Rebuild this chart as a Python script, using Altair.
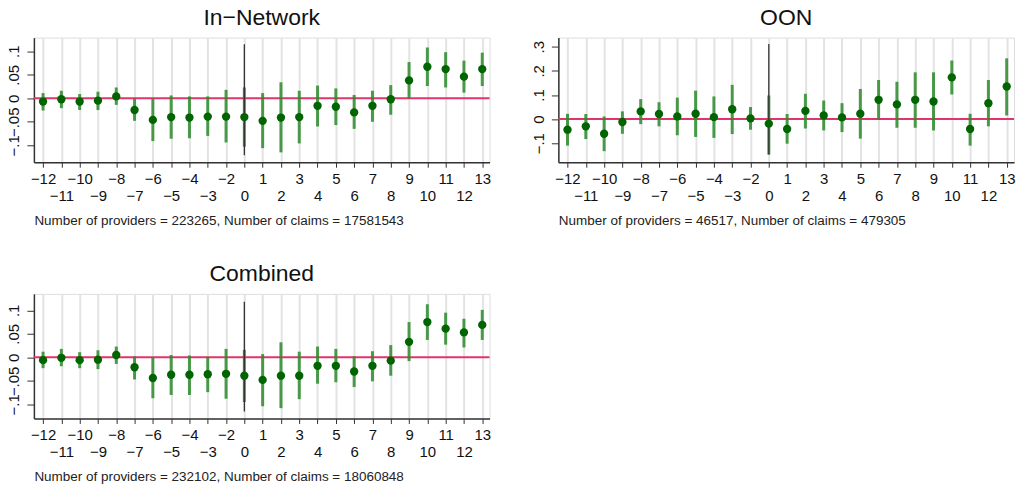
import json
import altair as alt
import pandas as pd

# Event-time labels (period -1 omitted as reference)
period_labels = ["−12", "−11", "−10", "−9", "−8", "−7", "−6", "−5", "−4", "−3", "−2",
                 "0", "1", "2", "3", "4", "5", "6", "7", "8", "9", "10", "11", "12", "13"]

# In-Network
in_est = [-0.007, -0.002, -0.007, -0.005, 0.004, -0.025, -0.046, -0.040, -0.041, -0.039, -0.039,
          -0.040, -0.048, -0.041, -0.040, -0.016, -0.018, -0.030, -0.016, -0.002, 0.038, 0.067, 0.062, 0.046, 0.062]
in_hi = [0.011, 0.016, 0.009, 0.014, 0.023, -0.001, -0.001, 0.006, 0.004, 0.004, 0.018,
         0.023, 0.011, 0.034, 0.016, 0.027, 0.021, 0.007, 0.016, 0.028, 0.077, 0.108, 0.098, 0.080, 0.097]
in_lo = [-0.026, -0.021, -0.025, -0.025, -0.014, -0.048, -0.091, -0.086, -0.085, -0.080, -0.094,
         -0.103, -0.106, -0.115, -0.096, -0.060, -0.057, -0.065, -0.050, -0.035, 0.000, 0.026, 0.023, 0.012, 0.026]

# OON
oon_est = [-0.044, -0.030, -0.061, -0.012, 0.032, 0.021, 0.011, 0.022, 0.008, 0.041, 0.003,
           -0.019, -0.041, 0.034, 0.015, 0.007, 0.022, 0.080, 0.061, 0.080, 0.073, 0.173, -0.041, 0.066, 0.135]
oon_hi = [0.022, 0.021, 0.011, 0.032, 0.083, 0.070, 0.089, 0.118, 0.094, 0.142, 0.050,
          0.098, 0.021, 0.105, 0.077, 0.066, 0.125, 0.162, 0.155, 0.194, 0.194, 0.243, 0.022, 0.162, 0.252]
oon_lo = [-0.110, -0.083, -0.133, -0.061, -0.021, -0.030, -0.067, -0.074, -0.078, -0.062, -0.044,
          -0.147, -0.102, -0.039, -0.047, -0.054, -0.081, -0.003, -0.036, -0.036, -0.047, 0.102, -0.110, -0.030, 0.015]

# Combined
cmb_est = [-0.006, -0.001, -0.006, -0.005, 0.005, -0.021, -0.044, -0.037, -0.037, -0.036, -0.035,
           -0.039, -0.048, -0.039, -0.039, -0.018, -0.018, -0.030, -0.018, -0.007, 0.033, 0.075, 0.061, 0.053, 0.069]
cmb_hi = [0.012, 0.018, 0.011, 0.015, 0.023, 0.002, 0.000, 0.005, 0.004, 0.001, 0.018,
          0.016, 0.007, 0.032, 0.012, 0.023, 0.018, 0.002, 0.013, 0.026, 0.075, 0.113, 0.095, 0.082, 0.101]
cmb_lo = [-0.023, -0.019, -0.023, -0.025, -0.014, -0.047, -0.087, -0.080, -0.080, -0.074, -0.088,
          -0.095, -0.104, -0.108, -0.089, -0.056, -0.053, -0.063, -0.051, -0.039, -0.008, 0.037, 0.027, 0.021, 0.037]

# Black reference line at period 0 (top, bottom)
ref_line = {"In-Network": (0.115, -0.121), "OON": (0.311, -0.147), "Combined": (0.118, -0.115)}

titles = ["In−Network", "OON", "Combined"]
notes = ["Number of providers = 223265, Number of claims = 17581543",
         "Number of providers = 46517, Number of claims = 479305",
         "Number of providers = 232102, Number of claims = 18060848"]
y_domains = [[-0.136, 0.129], [-0.179, 0.338], [-0.130, 0.135]]
y_ticks = [[-0.1, -0.05, 0, 0.05, 0.1], [-0.1, 0, 0.1, 0.2, 0.3], [-0.1, -0.05, 0, 0.05, 0.1]]

FONT = "Liberation Sans"
label_js = json.dumps(period_labels, ensure_ascii=False)
x_label_expr = f"datum.value % 2 == 1 ? ['', {label_js}[datum.value]] : {label_js}[datum.value]"


def panel(title, note, est, lo, hi, ydom, yticks, ref):
    df = pd.DataFrame({"pos": list(range(len(period_labels))), "lab": period_labels,
                       "est": est, "lo": lo, "hi": hi})
    xs = alt.Scale(domain=[-0.5, 24.4], nice=False, zero=False)
    ys = alt.Scale(domain=ydom, nice=False, zero=False)
    x_axis = alt.Axis(values=list(range(len(period_labels))), labelExpr=x_label_expr,
                      labelOverlap=False, labelFont=FONT, labelFontSize=15, labelColor="#111",
                      labelLineHeight=17, labelPadding=4, labelFlush=False,
                      tickSize=5, tickColor="#333", domainColor="#333", domainWidth=1.5,
                      grid=True, gridColor="#e3e3e3", gridWidth=2,
                      title=note, titleFont=FONT, titleFontSize=13.5, titleFontWeight="normal",
                      titleColor="#222", titleAnchor="start", titleAlign="left", titlePadding=10)
    y_axis = alt.Axis(values=yticks, labelExpr="replace(format(datum.value, '~g'), '0.', '.')",
                      labelAngle=-90, labelFont=FONT, labelFontSize=15, labelColor="#111",
                      labelPadding=5, tickSize=7, tickColor="#333", domainColor="#333",
                      domainWidth=1.5, grid=False, title=None, labelOverlap=False)
    X = lambda f: alt.X(f, scale=xs, axis=x_axis)
    Y = lambda f: alt.Y(f, scale=ys, axis=y_axis)
    base = alt.Chart(df)
    zero = alt.Chart(pd.DataFrame({"y": [0]})).mark_rule(color="#e2336b", strokeWidth=2).encode(
        y=Y("y:Q"))
    ci = base.mark_rule(color="#2a8a2a", strokeWidth=3, opacity=0.85).encode(
        x=X("pos:Q"), y=Y("lo:Q"), y2="hi:Q")
    blk = alt.Chart(pd.DataFrame({"pos": [11], "top": [ref[0]], "bot": [ref[1]]})).mark_rule(
        color="#333", strokeWidth=1.3).encode(x=X("pos:Q"), y=Y("bot:Q"), y2="top:Q")
    pts = base.mark_circle(size=70, color="#006400", opacity=1).encode(
        x=X("pos:Q"), y=Y("est:Q"))
    return alt.layer(zero, ci, blk, pts).properties(
        width=457, height=125,
        title=alt.TitleParams(title, fontSize=23, font=FONT, fontWeight="normal", color="#111",
                              anchor="middle", offset=8))


p_in = panel(titles[0], notes[0], in_est, in_lo, in_hi, y_domains[0], y_ticks[0], ref_line["In-Network"])
p_oon = panel(titles[1], notes[1], oon_est, oon_lo, oon_hi, y_domains[1], y_ticks[1], ref_line["OON"])
p_cmb = panel(titles[2], notes[2], cmb_est, cmb_lo, cmb_hi, y_domains[2], y_ticks[2], ref_line["Combined"])

chart = alt.vconcat(alt.hconcat(p_in, p_oon, spacing=39), p_cmb, spacing=35).properties(
    padding={"left": 6, "top": 5, "right": 5, "bottom": 5}
).configure_view(stroke="#8a8a8a", strokeWidth=1.5).configure(background="white")

chart.save("out.html", embed_options={"renderer": "svg", "actions": False})
